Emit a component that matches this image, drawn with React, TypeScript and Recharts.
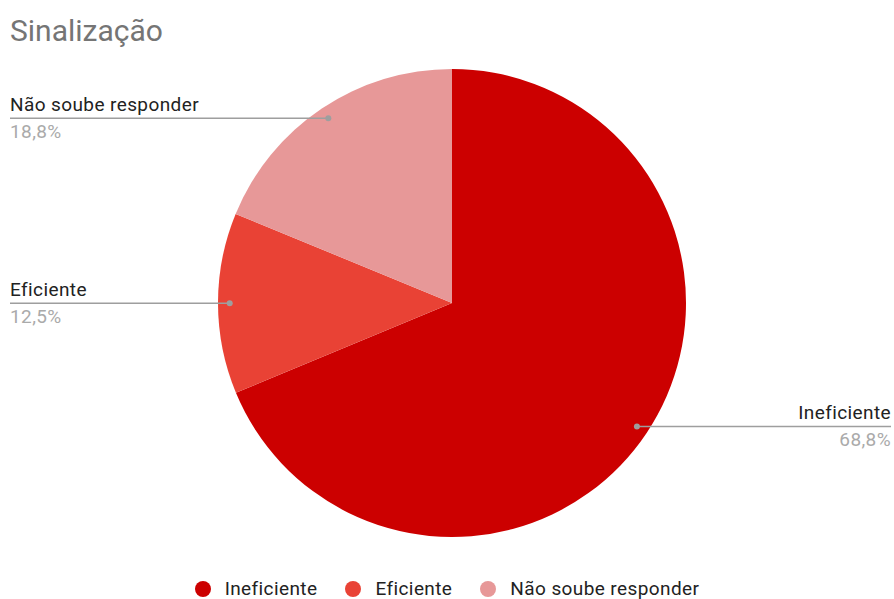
import React from 'react';
import { PieChart, Pie, Cell, Legend } from 'recharts';

const categories = ['Ineficiente', 'Eficiente', 'Não soube responder'];
const values = [68.8, 12.5, 18.8];
const colors = ['#cc0000', '#e94235', '#e79898'];

const data = categories.map((name, i) => ({ name, value: values[i] }));

const W = 894;
const H = 599;
const FONT = 'Roboto, Arial, sans-serif';

const RADIAN = Math.PI / 180;

const renderLabel = (props: any) => {
  const { cx, cy, midAngle, outerRadius, name, value } = props;
  const r = outerRadius * 0.95;
  const x = cx + r * Math.cos(-midAngle * RADIAN);
  const y = cy + r * Math.sin(-midAngle * RADIAN);
  const right = x > cx;
  const endX = right ? W - 3 : 10;
  const anchor = right ? 'end' : 'start';
  const pct = Number(value).toFixed(1).replace('.', ',') + '%';
  return (
    <g>
      <line x1={x} y1={y} x2={endX} y2={y} stroke="#9e9e9e" strokeWidth={1.5} />
      <circle cx={x} cy={y} r={3} fill="#9e9e9e" />
      <text x={endX} y={y - 7} textAnchor={anchor} fill="#222" fontSize={19} letterSpacing={0.4} fontFamily={FONT}>
        {name}
      </text>
      <text x={endX} y={y + 20} textAnchor={anchor} fill="#aaaaaa" fontSize={19} letterSpacing={0.4} fontFamily={FONT}>
        {pct}
      </text>
    </g>
  );
};

const renderLegend = () => (
  <div style={{ display: 'flex', justifyContent: 'center', alignItems: 'center', fontFamily: FONT, fontSize: 19, letterSpacing: 0.4, color: '#222' }}>
    {categories.map((c, i) => (
      <div key={c} style={{ display: 'flex', alignItems: 'center', marginRight: i < categories.length - 1 ? 28 : 0 }}>
        <span style={{ display: 'inline-block', width: 16, height: 16, borderRadius: 8, background: colors[i], marginRight: 14 }} />
        <span>{c}</span>
      </div>
    ))}
  </div>
);

export default function App() {
  return (
    <div style={{ position: 'absolute', left: 0, top: 0, width: W, height: H, background: '#fff' }}>
      <div style={{ position: 'absolute', left: 10, top: 13, fontFamily: FONT, fontSize: 30, color: '#757575', lineHeight: 'normal' }}>
        Sinalização
      </div>
      <PieChart width={W} height={H} margin={{ top: 0, right: 0, bottom: 0, left: 0 }}>
        <Pie
          data={data}
          dataKey="value"
          nameKey="name"
          cx={452}
          cy={303}
          outerRadius={234}
          startAngle={90}
          endAngle={-270}
          stroke="none"
          label={renderLabel}
          labelLine={false}
          isAnimationActive={false}
        >
          {data.map((d, i) => (
            <Cell key={d.name} fill={colors[i]} />
          ))}
        </Pie>
        <Legend content={renderLegend} wrapperStyle={{ position: 'absolute', left: 0, top: 577, width: W }} />
      </PieChart>
    </div>
  );
}
